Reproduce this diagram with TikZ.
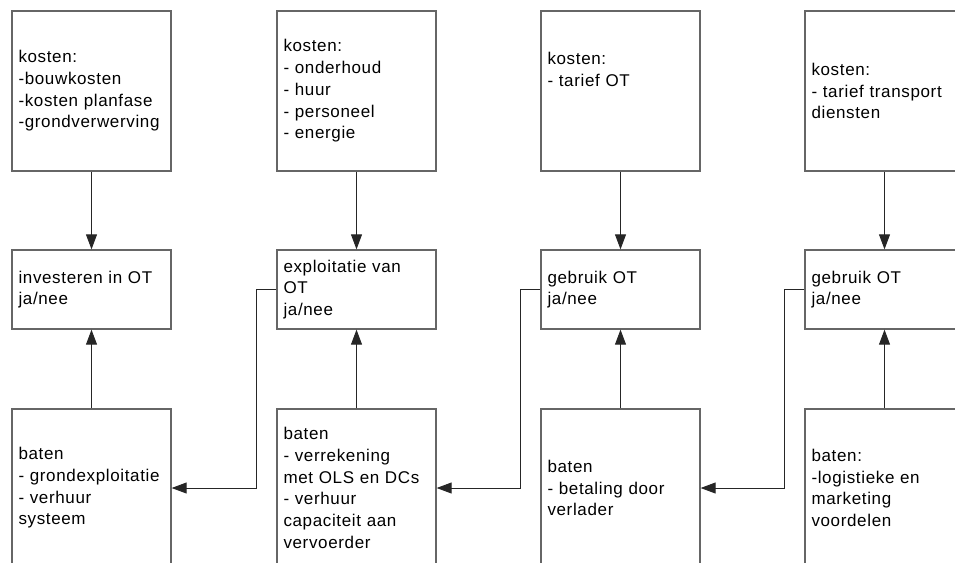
\documentclass[tikz,border=0pt]{standalone}
\usepackage{fontspec}
\newfontfamily\boxfont{Liberation Sans}[LetterSpace=3.8]
\usetikzlibrary{arrows.meta}

\begin{document}
\begin{tikzpicture}[
    x=1pt, y=-1pt,
    every node/.style={font=\boxfont\fontsize{17}{21.7}\selectfont},
    box/.style={draw=black!60, line width=1.3pt, minimum width=159pt,
        inner xsep=6.5pt, text width=146pt, align=left},
    topbox/.style={box, minimum height=160pt},
    midbox/.style={box, minimum height=79pt},
    batbox/.style={box, minimum height=158pt},
    link/.style={draw=black!85, line width=0.9pt},
    >={Triangle[length=15pt, width=11pt]},
]

% === Canvas (right column and bottom row run off the page) ===
\useasboundingbox (0,0) rectangle (955,562);
\clip (0,0) rectangle (955,562);

% === Column centres and row centres ===
\def\colA{91.5}
\def\colB{356.5}
\def\colC{620.5}
\def\colD{884.5}
\def\rowK{91}
\def\rowM{289.5}
\def\rowB{488}

% === Costs (top row) ===
\node[topbox] (kost1) at (\colA,\rowK)
    {kosten:\\-bouwkosten\\-kosten planfase\\-grondverwerving};
\node[topbox] (kost2) at (\colB,\rowK)
    {kosten:\\- onderhoud\\- huur\\- personeel\\- energie};
\node[topbox] (kost3) at (\colC,\rowK)
    {kosten:\\- tarief OT\\\mbox{}\\\mbox{}};
\node[topbox] (kost4) at (\colD,\rowK)
    {kosten:\\- tarief transport\\diensten};

% === Decisions (middle row) ===
\node[midbox] (besl1) at (\colA,\rowM) {investeren in OT\\ja/nee};
\node[midbox] (besl2) at (\colB,\rowM) {exploitatie van\\OT\\ja/nee};
\node[midbox] (besl3) at (\colC,\rowM) {gebruik OT\\ja/nee};
\node[midbox] (besl4) at (\colD,\rowM) {gebruik OT\\ja/nee};

% === Benefits (bottom row) ===
\node[batbox] (baat1) at (\colA,\rowB)
    {baten\\- grondexploitatie\\- verhuur\\systeem};
\node[batbox] (baat2) at (\colB,\rowB)
    {baten\\- verrekening\\met OLS en DCs\\- verhuur\\capaciteit aan\\vervoerder};
\node[batbox] (baat3) at (\colC,\rowB)
    {baten\\- betaling door\\verlader};
\node[batbox] (baat4) at (\colD,\rowB)
    {baten:\\-logistieke en\\marketing\\voordelen};

% === Vertical links: costs and benefits feed each decision ===
\foreach \i in {1,2,3,4} {
    \draw[link, ->] (kost\i) -- (besl\i);
    \draw[link, ->] (baat\i) -- (besl\i);
}

% === Each decision pays into the benefits of the column on its left ===
\foreach \i/\j in {2/1, 3/2, 4/3} {
    \draw[link, ->] (besl\i.west) -- ++(-20,0) |- (baat\j.east);
}

\end{tikzpicture}
\end{document}
